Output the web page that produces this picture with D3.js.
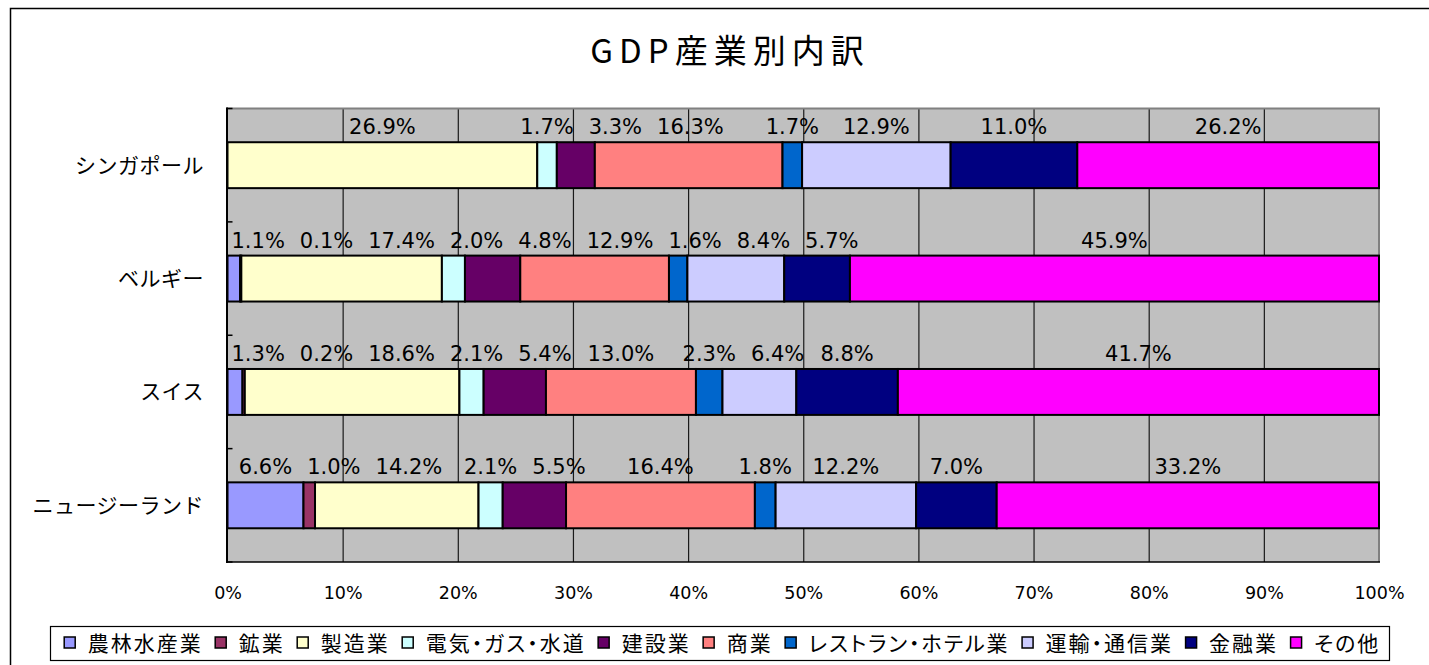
<!DOCTYPE html>
<html lang="ja">
<head>
<meta charset="utf-8">
<script src="https://cdn.jsdelivr.net/npm/d3@7"></script>
<style>
  html, body { margin: 0; padding: 0; background: #fff; }
  svg { display: block; }
  .jp { font-family: "Noto Sans CJK JP", "Noto Sans CJK SC", sans-serif; font-weight: 400; }
  .num { font-family: "DejaVu Sans", sans-serif; }
</style>
</head>
<body>
<svg id="chart" width="1429" height="665"></svg>
<script>
// GDP breakdown by industry, percent of total
const countries = ["シンガポール", "ベルギー", "スイス", "ニュージーランド"];
const sectors = ["農林水産業", "鉱業", "製造業", "電気・ガス・水道", "建設業", "商業",
                 "レストラン・ホテル業", "運輸・通信業", "金融業", "その他"];
const sectorColors = ["#9999FF", "#993366", "#FFFFCC", "#CCFFFF", "#660066", "#FF8080",
                      "#0066CC", "#CCCCFF", "#000080", "#FF00FF"];

const agriculture   = [0,    1.1,  1.3,  6.6];
const mining        = [0,    0.1,  0.2,  1.0];
const manufacturing = [26.9, 17.4, 18.6, 14.2];
const utilities     = [1.7,  2.0,  2.1,  2.1];
const construction  = [3.3,  4.8,  5.4,  5.5];
const commerce      = [16.3, 12.9, 13.0, 16.4];
const hospitality   = [1.7,  1.6,  2.3,  1.8];
const transport     = [12.9, 8.4,  6.4,  12.2];
const finance       = [11.0, 5.7,  8.8,  7.0];
const other         = [26.2, 45.9, 41.7, 33.2];

const xTickValues = [0, 0.1, 0.2, 0.3, 0.4, 0.5, 0.6, 0.7, 0.8, 0.9, 1];
const xTickLabels = ["0%", "10%", "20%", "30%", "40%", "50%", "60%", "70%", "80%", "90%", "100%"];

const seriesValues = [agriculture, mining, manufacturing, utilities, construction,
                      commerce, hospitality, transport, finance, other];

// one row per country, one column per sector
const rows = countries.map((c, i) => {
  const r = { country: c };
  sectors.forEach((s, j) => { r[s] = seriesValues[j][i]; });
  return r;
});

const svg = d3.select("#chart");
const plot = { left: 227.5, right: 1379, top: 108.5, bottom: 562 };

// chart frame
svg.append("rect")
  .attr("x", 10.5).attr("y", 8.5).attr("width", 1460).attr("height", 700)
  .attr("fill", "#fff").attr("stroke", "#000").attr("stroke-width", 1.5);

// title
svg.append("text")
  .attr("class", "jp")
  .attr("x", 730).attr("y", 63)
  .attr("text-anchor", "middle")
  .attr("font-size", 33)
  .style("letter-spacing", "6px")
  .text("GDP産業別内訳");

const x = d3.scaleLinear().domain([0, 1]).range([plot.left, plot.right]);
const y = d3.scaleBand().domain(countries)
  .range([plot.top, plot.bottom])
  .paddingInner(0.595).paddingOuter(0.2975);

// plot background
svg.append("rect")
  .attr("x", plot.left - 1).attr("y", plot.top)
  .attr("width", plot.right - plot.left + 1).attr("height", plot.bottom - plot.top)
  .attr("fill", "#C0C0C0");

// vertical gridlines
const grid = svg.append("g")
  .attr("transform", `translate(0,${plot.bottom})`)
  .call(d3.axisBottom(x).tickValues(xTickValues.slice(1, -1))
    .tickSize(-(plot.bottom - plot.top)).tickFormat(""));
grid.select(".domain").remove();
grid.selectAll(".tick line").attr("stroke", "#1a1a1a").attr("stroke-width", 1.2);

// plot border: top and right in grey
svg.append("path")
  .attr("d", `M${plot.left - 1},${plot.top} H${plot.right} V${plot.bottom}`)
  .attr("fill", "none").attr("stroke", "#808080").attr("stroke-width", 2);

// stacked, normalised to 100%
const stack = d3.stack().keys(sectors).offset(d3.stackOffsetExpand);
const layers = stack(rows);

const barG = svg.append("g");
layers.forEach((layer, k) => {
  barG.selectAll(null)
    .data(layer.filter(d => d.data[layer.key] > 0))
    .join("rect")
      .attr("x", d => x(d[0]))
      .attr("y", d => y(d.data.country))
      .attr("width", d => x(d[1]) - x(d[0]))
      .attr("height", y.bandwidth())
      .attr("fill", sectorColors[k])
      .attr("stroke", "#000")
      .attr("stroke-width", 2);
});

// category axis (left) with inward tick marks at band boundaries
const step = y.step();
const boundaries = countries.map(c => y(c) - y.paddingOuter() * step)
  .concat([plot.bottom]);
svg.append("g").selectAll("line")
  .data(boundaries)
  .join("line")
    .attr("x1", plot.left - 1).attr("x2", plot.left + 5)
    .attr("y1", d => d).attr("y2", d => d)
    .attr("stroke", "#000").attr("stroke-width", 1.5);
svg.append("line")
  .attr("x1", plot.left - 0.5).attr("x2", plot.left - 0.5)
  .attr("y1", plot.top - 1).attr("y2", plot.bottom + 1)
  .attr("stroke", "#000").attr("stroke-width", 2);

// value axis (bottom)
svg.append("line")
  .attr("x1", plot.left - 1.5).attr("x2", plot.right + 1)
  .attr("y1", plot.bottom).attr("y2", plot.bottom)
  .attr("stroke", "#000").attr("stroke-width", 1.5);

const xAxis = svg.append("g")
  .attr("transform", `translate(0,${plot.bottom})`)
  .call(d3.axisBottom(x).tickValues(xTickValues)
    .tickSize(0).tickPadding(25)
    .tickFormat((d, i) => xTickLabels[i]));
xAxis.select(".domain").remove();
xAxis.selectAll("text")
  .attr("class", "num")
  .attr("font-size", 17.5)
  .attr("fill", "#000");

// country labels
svg.append("g").selectAll("text")
  .data(countries)
  .join("text")
    .attr("class", "jp")
    .attr("x", 204)
    .attr("y", d => y(d) + y.bandwidth() / 2)
    .attr("dy", "0.36em")
    .attr("text-anchor", "end")
    .attr("font-size", 21)
    .style("letter-spacing", "0.5px")
    .text(d => d);

// value labels above each bar, centred on their segment and nudged right to avoid overlap
const fmt = v => v.toFixed(1) + "%";
const labelG = svg.append("g");
countries.forEach((c, i) => {
  let prevRight = plot.left + 4;
  layers.forEach(layer => {
    const d = layer[i];
    const v = d.data[layer.key];
    if (!(v > 0)) return;
    const t = labelG.append("text")
      .attr("class", "num")
      .attr("font-size", 21)
      .attr("text-anchor", "middle")
      .attr("y", y(c) - 8)
      .text(fmt(v));
    const w = t.node().getComputedTextLength();
    const centre = (x(d[0]) + x(d[1])) / 2;
    const left = Math.max(centre - w / 2, prevRight);
    t.attr("x", left + w / 2);
    prevRight = left + w + 15;
  });
});

// legend
const boxL = 50.5, boxR = 1389.5;
svg.append("rect")
  .attr("x", boxL).attr("y", 626.5)
  .attr("width", boxR - boxL).attr("height", 34)
  .attr("fill", "#fff").attr("stroke", "#000").attr("stroke-width", 1.2);

const legendG = svg.append("g");
const legendY = 643;
let cursor = 0;
sectors.forEach((s, k) => {
  const item = legendG.append("g").attr("transform", `translate(${cursor},0)`);
  item.append("rect")
    .attr("x", 0.5).attr("y", legendY - 6)
    .attr("width", 11).attr("height", 11)
    .attr("fill", sectorColors[k])
    .attr("stroke", "#000").attr("stroke-width", 1.5);
  const t = item.append("text")
    .attr("class", "jp")
    .attr("x", 24).attr("y", legendY)
    .attr("dy", "0.36em")
    .attr("font-size", 21)
    .style("letter-spacing", "2px")
    .style("font-feature-settings", '"palt"')
    .text(s);
  cursor += 24 + t.node().getComputedTextLength() + 12;
});
const legendW = cursor - 12;
legendG.attr("transform", `translate(${(boxL + boxR) / 2 - legendW / 2 + 2},0)`);
</script>
</body>
</html>
